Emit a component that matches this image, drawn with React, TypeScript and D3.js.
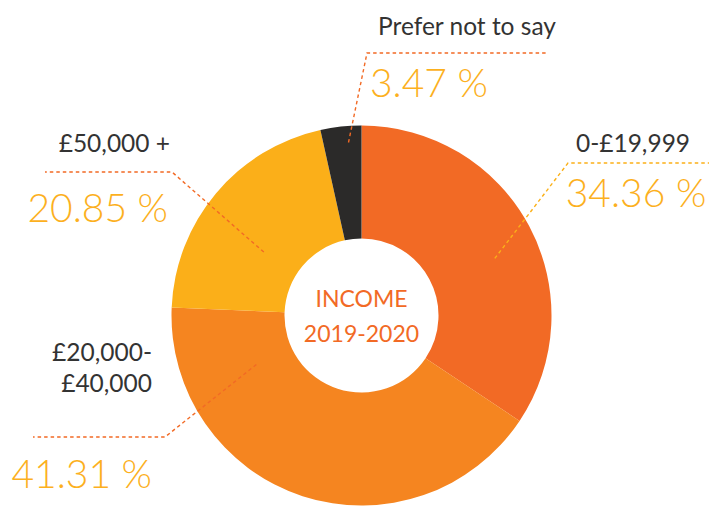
import { useMemo } from 'react';
import * as d3 from 'd3';

// Income split, clockwise from 12 o'clock
const categories = ['0-£19,999', '£20,000-\n£40,000', '£50,000 +', 'Prefer not to say'];
const shares = [34.36, 41.31, 20.85, 3.47];
const sliceColors = ['#f26a25', '#f58520', '#fbaf19', '#2b2a29'];
const centerTitle = ['INCOME', '2019-2020'];

// label layout: leader start (polar), elbow, end, and text anchors
const labelLayout = [
  { a: 66.8, r: 145, elbow: [568, 163], end: [709, 163], lx: 633, ly: 152, px: 636, py: 207, anchor: 'middle', stroke: '#fbb018' },
  { a: 245, r: 116, elbow: [165, 437], end: [33, 437], lx: 152, ly: 392, px: 152, py: 488, anchor: 'end', stroke: '#f26a25' },
  { a: 303, r: 116.5, elbow: [172, 172], end: [45, 172], lx: 170, ly: 152, px: 168, py: 222, anchor: 'end', stroke: '#f26a25' },
  { a: 355.7, r: 173.5, elbow: [367, 53], end: [548, 53], lx: 378, ly: 35, px: 370, py: 97, anchor: 'start', stroke: '#f26a25' },
];

const W = 709;
const H = 509;
const cx = 361.5;
const cy = 315.5;
const outerR = 190;
const innerR = 77;
const FONT = '"Source Sans Pro", Lato, "Open Sans", sans-serif';

export default function App() {
  const arcs = useMemo(() => {
    const pie = d3.pie<number>().sort(null).value(d => d);
    return pie(shares);
  }, []);

  const arcGen = d3.arc<d3.PieArcDatum<number>>().innerRadius(innerR).outerRadius(outerR);
  const line = d3.line();

  return (
    <svg
      width={W}
      height={H}
      style={{ position: 'absolute', top: 0, left: 0, background: '#fff' }}
      fontFamily={FONT}
    >
      <g transform={`translate(${cx},${cy})`}>
        {arcs.map((a, i) => (
          <path key={i} d={arcGen(a) || ''} fill={sliceColors[i]} />
        ))}
      </g>

      {labelLayout.map((l, i) => {
        const [sx, sy] = d3.pointRadial((l.a * Math.PI) / 180, l.r);
        const pts: [number, number][] = [
          [cx + sx, cy + sy],
          l.elbow as [number, number],
          l.end as [number, number],
        ];
        const lines = categories[i].split('\n');
        return (
          <g key={i}>
            <path
              d={line(pts) || ''}
              fill="none"
              stroke={l.stroke}
              strokeWidth={1.4}
              strokeDasharray="3.5 3"
            />
            <text
              x={l.lx}
              y={l.ly - (lines.length - 1) * 31}
              textAnchor={l.anchor}
              fill="#333"
              fontSize={24.5}
            >
              {lines.map((t, j) => (
                <tspan key={j} x={l.lx} dy={j === 0 ? 0 : 31}>
                  {t}
                </tspan>
              ))}
            </text>
            <text
              x={l.px}
              y={l.py}
              textAnchor={l.anchor}
              fill="#fcb01e"
              fontSize={39}
              fontWeight={300}
            >
              {`${shares[i].toFixed(2)} %`}
            </text>
          </g>
        );
      })}

      {centerTitle.map((t, i) => (
        <text
          key={t}
          x={cx}
          y={307 + i * 35}
          textAnchor="middle"
          fill="#f26a25"
          fontSize={23}
        >
          {t}
        </text>
      ))}
    </svg>
  );
}
